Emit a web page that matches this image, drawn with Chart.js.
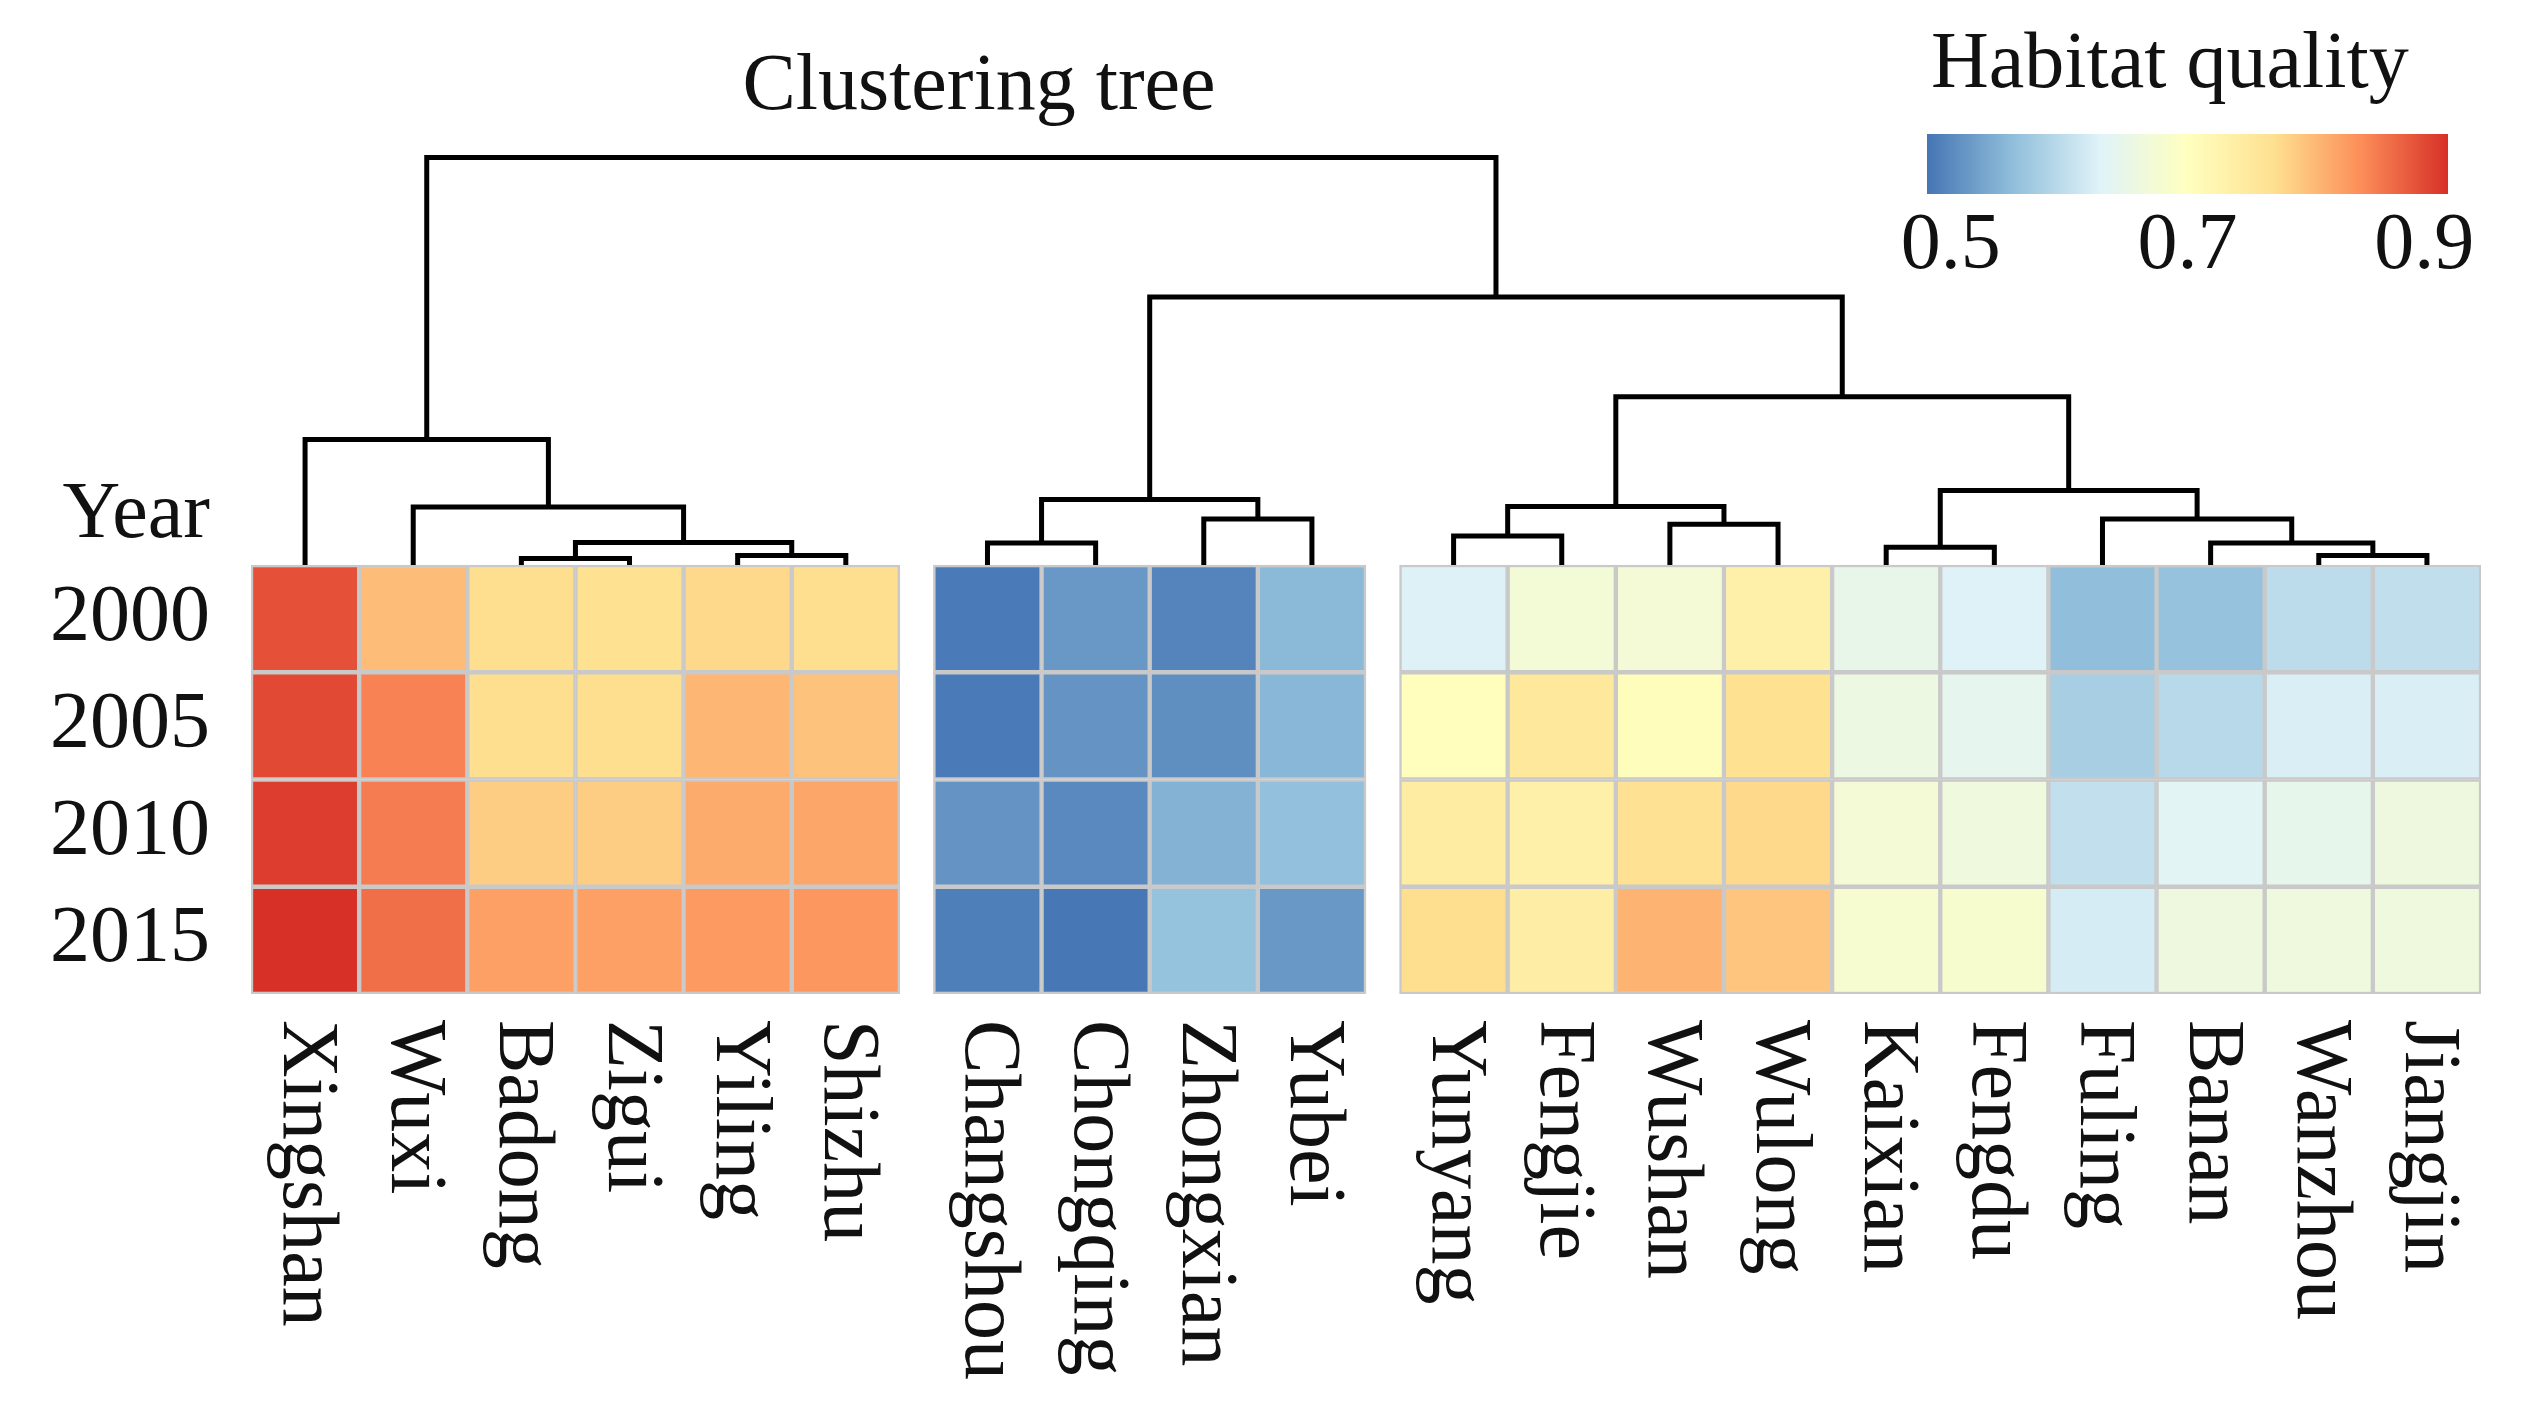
<!DOCTYPE html>
<html>
<head>
<meta charset="utf-8">
<script src="https://cdn.jsdelivr.net/npm/chart.js@4.4.1/dist/chart.umd.min.js"></script>
<style>
  html, body { margin: 0; padding: 0; background: #ffffff; }
  #wrap { width: 2529px; height: 1409px; position: relative; }
</style>
</head>
<body>
<div id="wrap"><canvas id="c"></canvas></div>
<script>
// ---------------- data ----------------
const categories = ['Xingshan','Wuxi','Badong','Zigui','Yiling','Shizhu',
  'Changshou','Chongqing','Zhongxian','Yubei',
  'Yunyang','Fengjie','Wushan','Wulong','Kaixian','Fengdu','Fuling','Banan','Wanzhou','Jiangjin'];
const clusterOf = [1,1,1,1,1,1, 2,2,2,2, 3,3,3,3,3,3,3,3,3,3];
const years = ['2000','2005','2010','2015'];
const yearHeader = 'Year';

const q2000 = [0.895,0.805,0.775,0.772,0.780,0.775, 0.485,0.515,0.495,0.548, 0.624,0.670,0.672,0.735,0.645,0.625,0.553,0.558,0.593,0.597];
const q2005 = [0.900,0.855,0.775,0.775,0.810,0.800, 0.485,0.510,0.505,0.545, 0.703,0.755,0.705,0.772,0.655,0.640,0.575,0.590,0.620,0.620];
const q2010 = [0.910,0.860,0.790,0.790,0.820,0.825, 0.510,0.500,0.540,0.555, 0.745,0.735,0.770,0.780,0.672,0.662,0.598,0.632,0.643,0.660];
const q2015 = [0.920,0.870,0.830,0.830,0.835,0.838, 0.490,0.482,0.557,0.515, 0.775,0.742,0.812,0.797,0.678,0.680,0.617,0.660,0.662,0.662];
const seriesByYear = [q2000, q2005, q2010, q2015];

// hierarchical clustering (R hclust style: negative = leaf number, positive = earlier merge)
const mergeLeft   = [-3, -5, 1, -2, -1, -7, -9, 6, -11, -13, 9, -15, -19, -18, -17, 12, 11, 8, 5];
const mergeRight  = [-4, -6, 2,  3,  4, -8, -10, 7, -12, -14, 10, -16, -20, 13, 14, 15, 16, 17, 18];
const mergeHeight = [0.06, 0.09, 0.21, 0.54, 1.17, 0.205, 0.43, 0.61, 0.27, 0.38, 0.545, 0.165, 0.09, 0.205, 0.43, 0.695, 1.57, 2.50, 3.80];

// colour scale
const legendTitle = 'Habitat quality';
const legendTicks = [0.5, 0.7, 0.9];
const colorDomain = [0.48, 0.92];
const colorStops = ['#4575B4','#91BFDB','#E0F3F8','#FFFFBF','#FEE090','#FC8D59','#D73027'];
const titleText = 'Clustering tree';

// ---------------- layout / style ----------------
const FONT = '"Liberation Serif", "Times New Roman", serif';
const panelGap = 0.31;
const L = {
  titleX: 979, titleY: 109,
  legendTitleX: 1931, legendTitleY: 87,
  barX0: 1927, barX1: 2448, barY0: 134, barY1: 194,
  legendTickY: 268,
  labelOffset: 26
};

function hexToRgb(h) { const n = parseInt(h.slice(1), 16); return [(n>>16)&255, (n>>8)&255, n&255]; }
const stopRgb = colorStops.map(hexToRgb);
function valueToColor(v) {
  let t = (v - colorDomain[0]) / (colorDomain[1] - colorDomain[0]);
  t = Math.max(0, Math.min(1, t));
  const pos = t * (stopRgb.length - 1);
  const i = Math.min(Math.floor(pos), stopRgb.length - 2);
  const f = pos - i;
  const a = stopRgb[i], b = stopRgb[i+1];
  const c = a.map((av, k) => Math.round(av + (b[k] - av) * f));
  return `rgb(${c[0]},${c[1]},${c[2]})`;
}

// column centres on the linear x scale (gap between clusters)
const colX = categories.map((_, i) => i + 0.5 + panelGap * (clusterOf[i] - 1));
const xMax = categories.length + panelGap * (Math.max(...clusterOf) - 1);

// heatmap datasets: one per year, rows stacked downward from y = 0
const heatDatasets = years.map((yr, r) => ({
  type: 'bar',
  label: yr,
  data: categories.map((c, i) => ({ x: colX[i], y: [-(r + 1), -r] })),
  backgroundColor: seriesByYear[r].map(valueToColor),
  borderColor: '#c9c9c9',
  borderWidth: 2.5,
  borderSkipped: false,
  grouped: false,
  barPercentage: 1,
  categoryPercentage: 1,
  order: 2
}));

// dendrogram datasets
const nodes = {};
function nodePos(ref) {
  if (ref < 0) return { x: colX[-ref - 1], h: 0 };
  return nodes[ref];
}
const treeDatasets = [];
mergeLeft.forEach((l, k) => {
  const a = nodePos(l), b = nodePos(mergeRight[k]);
  const h = mergeHeight[k];
  nodes[k + 1] = { x: (a.x + b.x) / 2, h: h };
  treeDatasets.push({
    type: 'line',
    data: [{x: a.x, y: a.h}, {x: a.x, y: h}, {x: b.x, y: h}, {x: b.x, y: b.h}],
    borderColor: '#000000',
    borderWidth: 5,
    pointRadius: 0,
    fill: false,
    tension: 0,
    borderJoinStyle: 'miter',
    borderCapStyle: 'butt',
    clip: false,
    order: 1
  });
});

const yTickValues = [-0.5, -1.5, -2.5, -3.5, 0.46];
const yTickLabels = [...years, yearHeader];

const annotationPlugin = {
  id: 'annotations',
  afterDraw(chart) {
    const { ctx, chartArea, scales } = chart;
    const x = scales.x;
    ctx.save();
    ctx.fillStyle = '#111111';
    ctx.font = `80px ${FONT}`;
    ctx.textAlign = 'center';
    ctx.textBaseline = 'alphabetic';
    ctx.fillText(titleText, L.titleX, L.titleY);
    ctx.textAlign = 'left';
    ctx.fillText(legendTitle, L.legendTitleX, L.legendTitleY);
    const g = ctx.createLinearGradient(L.barX0, 0, L.barX1, 0);
    colorStops.forEach((c, i) => g.addColorStop(i / (colorStops.length - 1), c));
    ctx.fillStyle = g;
    ctx.fillRect(L.barX0, L.barY0, L.barX1 - L.barX0, L.barY1 - L.barY0);
    ctx.fillStyle = '#111111';
    ctx.textAlign = 'center';
    legendTicks.forEach(v => {
      const px = L.barX0 + (v - colorDomain[0]) / (colorDomain[1] - colorDomain[0]) * (L.barX1 - L.barX0);
      ctx.fillText(v.toFixed(1), px, L.legendTickY);
    });
    categories.forEach((name, i) => {
      const px = x.getPixelForValue(colX[i]);
      ctx.save();
      ctx.translate(px, chartArea.bottom + L.labelOffset);
      ctx.rotate(Math.PI / 2);
      ctx.textAlign = 'left';
      ctx.textBaseline = 'middle';
      ctx.fillText(name, 0, 0);
      ctx.restore();
    });
    ctx.restore();
  }
};

new Chart(document.getElementById('c'), {
  type: 'bar',
  data: { datasets: [...treeDatasets, ...heatDatasets] },
  options: {
    responsive: true,
    maintainAspectRatio: false,
    devicePixelRatio: 1,
    animation: false,
    layout: { padding: { top: 150, right: 48, bottom: 415, left: 0 } },
    plugins: { legend: { display: false }, tooltip: { enabled: false }, title: { display: false } },
    scales: {
      x: {
        type: 'linear',
        offset: false,
        min: 0,
        max: xMax,
        display: false,
        grid: { offset: false },
        afterBuildTicks: s => { s.ticks = colX.map(v => ({ value: v })); }
      },
      y: {
        type: 'linear',
        min: -4,
        max: 3.87,
        position: 'left',
        grid: { display: false, drawTicks: false },
        border: { display: false },
        afterBuildTicks: s => { s.ticks = yTickValues.map(v => ({ value: v })); },
        afterFit: s => { s.width = 251; },
        ticks: {
          autoSkip: false,
          padding: 41,
          color: '#111111',
          font: { family: FONT, size: 80 },
          callback: (v, i) => yTickLabels[i]
        }
      }
    }
  },
  plugins: [annotationPlugin]
});
</script>
</body>
</html>
